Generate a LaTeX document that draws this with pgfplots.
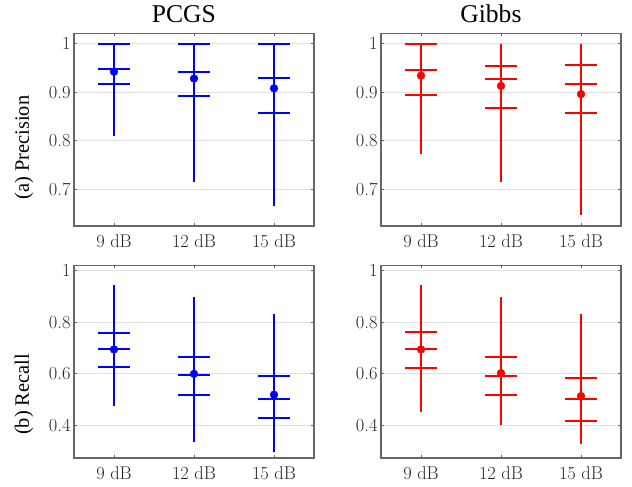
\documentclass[border=0pt]{standalone}
\usepackage{fontspec}
\usepackage{pgfplots}
\usepackage{pgfplotstable}
\pgfplotsset{compat=1.18}
\newfontfamily\timesf{Liberation Serif}

\definecolor{axisgray}{gray}{0.40}
\definecolor{gridgray}{gray}{0.88}
\definecolor{labelgray}{gray}{0.15}

% x: 1=9 dB, 2=12 dB, 3=15 dB
\pgfplotstableread{
x min   q1    med   q3    max   mean
1 0.810 0.917 0.948 1.000 1.000 0.942
2 0.716 0.892 0.942 1.000 1.000 0.928
3 0.667 0.858 0.929 1.000 1.000 0.908
}\pcgsprec
\pgfplotstableread{
x min   q1    med   q3    max   mean
1 0.773 0.895 0.945 1.000 1.000 0.934
2 0.716 0.867 0.927 0.953 1.000 0.913
3 0.648 0.857 0.917 0.955 1.000 0.896
}\gibbsprec
\pgfplotstableread{
x min   q1    med   q3    max   mean
1 0.476 0.624 0.697 0.756 0.943 0.694
2 0.334 0.518 0.593 0.666 0.898 0.599
3 0.295 0.427 0.500 0.591 0.832 0.518
}\pcgsrec
\pgfplotstableread{
x min   q1    med   q3    max   mean
1 0.452 0.622 0.696 0.763 0.943 0.694
2 0.401 0.518 0.591 0.666 0.898 0.602
3 0.325 0.414 0.500 0.584 0.832 0.513
}\gibbsrec

\pgfplotsset{
  panel/.style={
    scale only axis, width=240bp, height=192.7bp,
    anchor=south west,
    xmin=0.5, xmax=3.5, xtick={1,2,3},
    xticklabels={9 dB,12 dB,15 dB},
    tick align=inside, major tick length=3bp,
    axis line style={draw=axisgray, line width=1.2bp},
    every tick/.style={draw=axisgray, line width=0.8bp},
    ymajorgrids, grid style={draw=gridgray, line width=0.8bp},
    ticklabel style={font=\fontsize{18.5}{20}\selectfont, text=labelgray},
    xticklabel style={yshift=-5bp},
    /pgf/number format/assume math mode=true,
    /pgf/number format/fixed,
    every axis title/.style={at={(axis description cs:0.458,1.057)},
      anchor=base, font=\timesf\fontsize{25.7}{28}\selectfont},
    ylabel style={anchor=center, font=\timesf\fontsize{20.5}{22}\selectfont},
  },
  prec/.style={ymin=0.625, ymax=1.021, ytick={0.7,0.8,0.9,1}},
  rec/.style={ymin=0.272, ymax=1.021, ytick={0.4,0.6,0.8,1}},
}

\newcommand\drawstats[2]{%
  \addplot[#2, only marks, mark=-, mark size=15.7bp,
    mark options={line width=2bp},
    error bars/.cd, y dir=both, y explicit, error mark=none,
    error bar style={line width=2bp}]
    table[x=x, y=med,
      y error plus expr=\thisrow{max}-\thisrow{med},
      y error minus expr=\thisrow{med}-\thisrow{min}] {#1};
  \addplot[#2, only marks, mark=-, mark size=15.7bp,
    mark options={line width=2bp}] table[x=x, y=q1] {#1};
  \addplot[#2, only marks, mark=-, mark size=15.7bp,
    mark options={line width=2bp}] table[x=x, y=q3] {#1};
  \addplot[#2, only marks, mark=*, mark size=3.9bp,
    mark options={line width=0.4bp}] table[x=x, y=mean] {#1};
}

\begin{document}
\begin{tikzpicture}
\useasboundingbox (0,0) rectangle (632bp,487bp);

\begin{axis}[panel, prec, at={(74bp,261bp)}, title={PCGS},
  ylabel={(a) Precision},
  ylabel style={at={(axis description cs:-0.208,0.407)}}]
  \drawstats{\pcgsprec}{blue}
\end{axis}

\begin{axis}[panel, prec, at={(381bp,261bp)}, title={Gibbs}]
  \drawstats{\gibbsprec}{red}
\end{axis}

\begin{axis}[panel, rec, at={(74bp,29bp)},
  ylabel={(b) Recall},
  ylabel style={at={(axis description cs:-0.208,0.33)}}]
  \drawstats{\pcgsrec}{blue}
\end{axis}

\begin{axis}[panel, rec, at={(381bp,29bp)}]
  \drawstats{\gibbsrec}{red}
\end{axis}
\end{tikzpicture}
\end{document}
